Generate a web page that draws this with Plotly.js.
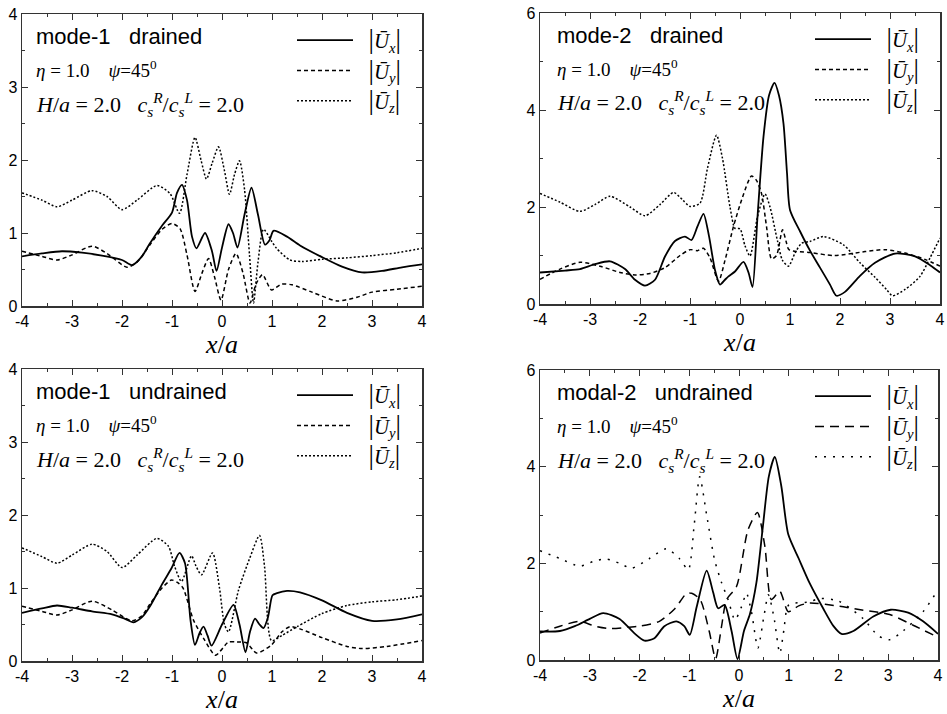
<!DOCTYPE html>
<html>
<head>
<meta charset="utf-8">
<script src="https://cdn.plot.ly/plotly-3.0.1.min.js"></script>
<style>html,body{margin:0;padding:0;background:#fff;}#chart{width:947px;height:714px;}</style>
</head>
<body>
<div id="chart"></div>
<script>
// ---------- Panel 1: mode-1 drained ----------
const p1_ux_x = [-4,-3.6,-3.2,-2.8,-2.4,-2.0,-1.8,-1.6,-1.44,-1.2,-1.0,-0.9,-0.8,-0.7,-0.6,-0.51,-0.34,-0.2,-0.11,0.0,0.13,0.22,0.31,0.45,0.59,0.72,0.86,0.95,1.03,1.3,1.56,2.0,2.4,2.8,3.2,3.6,4.0];
const p1_ux   = [0.68,0.72,0.75,0.73,0.69,0.63,0.56,0.68,0.86,1.1,1.28,1.55,1.66,1.45,0.95,0.79,1.0,0.75,0.48,0.8,1.12,1.0,0.8,1.25,1.62,1.25,0.84,0.9,1.03,0.95,0.83,0.67,0.54,0.46,0.48,0.53,0.57];
const p1_uy_x = [-4,-3.6,-3.3,-3.0,-2.6,-2.3,-1.9,-1.7,-1.44,-1.2,-1.0,-0.84,-0.7,-0.54,-0.4,-0.27,-0.15,-0.02,0.13,0.28,0.42,0.56,0.68,0.81,0.99,1.19,1.4,1.8,2.3,2.7,3.0,3.5,4.0];
const p1_uy   = [0.75,0.68,0.63,0.7,0.82,0.72,0.53,0.6,0.84,1.05,1.13,1.06,0.7,0.2,0.45,0.65,0.4,0.08,0.5,0.72,0.45,0.04,0.3,0.43,0.22,0.3,0.29,0.19,0.07,0.12,0.19,0.23,0.27];
const p1_uz_x = [-4,-3.6,-3.3,-3.0,-2.6,-2.3,-2.0,-1.7,-1.3,-1.04,-0.85,-0.7,-0.54,-0.42,-0.31,-0.2,-0.07,0.05,0.15,0.25,0.35,0.45,0.55,0.63,0.72,0.83,1.0,1.09,1.36,1.6,2.0,2.5,3.0,3.5,4.0];
const p1_uz   = [1.55,1.45,1.36,1.45,1.58,1.5,1.32,1.45,1.65,1.54,1.27,1.8,2.31,2.0,1.74,1.95,2.18,1.85,1.53,1.8,1.99,1.6,0.7,0.04,0.6,1.05,0.88,0.79,0.63,0.61,0.64,0.66,0.69,0.73,0.79];

// ---------- Panel 2: mode-2 drained ----------
const p2_ux_x = [-4,-3.5,-3.2,-2.9,-2.6,-2.3,-2.1,-1.9,-1.7,-1.5,-1.3,-1.1,-0.97,-0.85,-0.73,-0.62,-0.5,-0.4,-0.3,-0.23,-0.1,0.07,0.17,0.25,0.35,0.47,0.58,0.69,0.78,0.87,0.94,1.0,1.2,1.4,1.6,1.8,1.93,2.1,2.4,2.7,3.1,3.5,3.8,4.0];
const p2_ux   = [0.65,0.69,0.72,0.82,0.88,0.72,0.5,0.38,0.5,0.98,1.3,1.39,1.32,1.6,1.86,1.4,0.7,0.4,0.5,0.57,0.67,0.87,0.65,0.35,1.8,3.45,4.3,4.56,4.3,3.72,2.7,1.94,1.5,1.1,0.75,0.4,0.17,0.25,0.58,0.85,1.04,0.98,0.8,0.65];
const p2_uy_x = [-4,-3.6,-3.2,-2.8,-2.4,-2.1,-1.8,-1.5,-1.2,-1.0,-0.85,-0.73,-0.6,-0.43,-0.3,-0.13,0.05,0.23,0.33,0.43,0.53,0.63,0.73,0.85,0.92,0.98,1.4,1.9,2.5,2.9,3.3,3.7,4.0];
const p2_uy   = [0.51,0.72,0.86,0.78,0.65,0.6,0.63,0.75,1.0,1.12,1.1,1.15,0.95,0.47,0.9,1.6,2.2,2.64,2.55,2.28,1.6,0.93,1.0,1.53,1.3,1.12,1.06,1.0,1.08,1.12,1.05,0.92,0.78];
const p2_uz_x = [-4,-3.6,-3.2,-2.9,-2.6,-2.2,-1.9,-1.6,-1.33,-1.15,-1.0,-0.8,-0.65,-0.47,-0.35,-0.2,-0.1,0.0,0.1,0.2,0.35,0.5,0.6,0.75,0.85,0.97,1.1,1.23,1.4,1.67,2.07,2.4,2.7,2.93,3.05,3.3,3.6,3.8,4.0];
const p2_uz   = [2.28,2.1,1.91,2.05,2.22,2.0,1.82,2.05,2.3,2.15,2.01,2.08,2.8,3.48,3.0,2.0,1.56,1.55,1.2,0.99,1.8,2.27,2.0,1.3,0.9,0.78,1.05,1.25,1.29,1.39,1.22,0.85,0.55,0.3,0.17,0.3,0.57,0.95,1.36];

// ---------- Panel 3: mode-1 undrained ----------
const p3_ux_x = [-4,-3.6,-3.3,-3.0,-2.6,-2.2,-1.95,-1.77,-1.6,-1.44,-1.2,-1.01,-0.85,-0.74,-0.63,-0.54,-0.45,-0.37,-0.29,-0.21,0.0,0.23,0.35,0.47,0.56,0.66,0.75,0.83,0.92,1.01,1.1,1.3,1.56,2.0,2.5,3.0,3.5,4.0];
const p3_ux   = [0.66,0.72,0.76,0.73,0.68,0.64,0.58,0.53,0.6,0.75,1.05,1.27,1.48,1.34,0.56,0.22,0.38,0.47,0.35,0.21,0.5,0.77,0.5,0.12,0.4,0.58,0.5,0.45,0.6,0.9,0.93,0.96,0.94,0.83,0.66,0.55,0.57,0.64];
const p3_uy_x = [-4,-3.6,-3.3,-3.0,-2.6,-2.2,-1.8,-1.6,-1.44,-1.2,-1.01,-0.9,-0.78,-0.57,-0.35,-0.13,0.13,0.3,0.49,0.69,0.99,1.2,1.36,1.56,2.0,2.5,2.8,3.3,4.0];
const p3_uy   = [0.75,0.68,0.63,0.7,0.82,0.7,0.55,0.62,0.78,1.0,1.11,1.08,1.0,0.56,0.29,0.08,0.26,0.26,0.25,0.11,0.22,0.4,0.47,0.44,0.32,0.2,0.17,0.2,0.28];
const p3_uz_x = [-4,-3.6,-3.3,-3.0,-2.6,-2.3,-2.0,-1.7,-1.3,-1.07,-0.95,-0.81,-0.61,-0.52,-0.41,-0.19,-0.05,0.05,0.13,0.33,0.55,0.75,0.85,0.99,1.2,1.5,2.0,2.5,3.0,3.5,4.0];
const p3_uz   = [1.55,1.43,1.34,1.45,1.6,1.5,1.28,1.45,1.68,1.57,1.3,1.09,1.44,1.3,1.18,1.48,1.0,0.5,0.4,0.97,1.4,1.72,1.3,0.28,0.35,0.47,0.65,0.76,0.81,0.84,0.89];

// ---------- Panel 4: modal-2 undrained ----------
const p4_ux_x = [-4,-3.6,-3.3,-3.0,-2.73,-2.4,-2.1,-1.9,-1.7,-1.5,-1.26,-1.1,-0.99,-0.85,-0.65,-0.52,-0.42,-0.29,-0.15,-0.03,0.1,0.22,0.35,0.48,0.6,0.72,0.85,0.99,1.2,1.42,1.69,1.9,2.06,2.3,2.7,3.05,3.4,3.7,4.0];
const p4_ux   = [0.59,0.6,0.7,0.85,0.97,0.85,0.55,0.4,0.45,0.7,0.8,0.7,0.52,1.1,1.85,1.4,1.07,1.14,0.6,0.02,0.6,0.95,1.6,2.76,3.8,4.2,3.6,2.6,2.1,1.59,1.07,0.7,0.54,0.6,0.9,1.04,0.98,0.8,0.54];
const p4_uy_x = [-4,-3.6,-3.2,-2.9,-2.6,-2.2,-2.0,-1.6,-1.3,-1.05,-0.95,-0.78,-0.6,-0.47,-0.35,-0.25,-0.05,0.18,0.37,0.52,0.65,0.82,0.99,1.2,1.42,2.02,2.5,3.03,3.5,4.0];
const p4_uy   = [0.56,0.7,0.8,0.7,0.65,0.68,0.7,0.8,1.05,1.38,1.38,1.25,0.6,0.03,0.7,1.25,1.52,2.69,3.05,2.35,1.25,1.42,1.0,1.12,1.18,1.11,1.03,0.94,0.72,0.47];
const p4_uz_x = [-4,-3.6,-3.2,-2.9,-2.66,-2.4,-2.16,-1.8,-1.46,-1.2,-1.02,-0.9,-0.79,-0.65,-0.49,-0.35,-0.22,-0.08,0.05,0.15,0.25,0.38,0.5,0.59,0.7,0.82,0.9,1.0,1.42,1.6,2.0,2.5,2.8,3.03,3.3,3.7,4.0];
const p4_uz   = [2.26,2.1,1.94,2.05,2.09,2.0,1.9,2.1,2.3,2.1,1.87,2.8,3.79,3.0,2.07,1.6,1.25,0.83,1.1,1.38,1.0,0.25,0.9,1.35,0.9,0.14,0.6,1.14,1.2,1.27,1.22,0.85,0.5,0.42,0.6,1.0,1.45];

// ---------- Text ----------
const panelTitles = ['mode-1   drained','mode-2   drained','mode-1   undrained','modal-2   undrained'];
const paramLine1 = '<i>η</i> = 1.0    <i>ψ</i>=45<sup>0</sup>';
const paramLine2 = '<i>H</i>/<i>a</i> = 2.0   <i>c<sub>s</sub><sup>R</sup></i>/<i>c<sub>s</sub><sup>L</sup></i> = 2.0';
const subs = ['x','y','z'];
const seriesNames = subs.map(s => '\u00A0\u00A0<span style="font-size:27px">|</span><i>Ū<sub>' + s + '</sub></i><span style="font-size:27px">|</span>');
const xTicks = [-4,-3,-2,-1,0,1,2,3,4];
const xTitle = '<i>x</i>/<i>a</i>';

const W = 947, H = 714;
const px = v => v / W;
const py = v => 1 - v / H;

// panel frames in pixels: [left, right, top, bottom]
const frames = [
  [22, 422, 14, 306],
  [540, 940, 13, 304],
  [22, 422, 369, 661],
  [540, 938, 370, 660]
];
const yMax = [4, 6, 4, 6];
const yTickStep = [1, 2, 1, 2];

const data = [];
const panels = [
  [[p1_ux_x,p1_ux],[p1_uy_x,p1_uy],[p1_uz_x,p1_uz]],
  [[p2_ux_x,p2_ux],[p2_uy_x,p2_uy],[p2_uz_x,p2_uz]],
  [[p3_ux_x,p3_ux],[p3_uy_x,p3_uy],[p3_uz_x,p3_uz]],
  [[p4_ux_x,p4_ux],[p4_uy_x,p4_uy],[p4_uz_x,p4_uz]]
];
const dashStyles = [
  ['solid','4px,3px','2px,2px'],
  ['solid','4px,3px','2px,2px'],
  ['solid','4px,3px','2px,2px'],
  ['solid','9px,6px','2px,7px']
];
const widths = [1.8, 1.5, 1.5];

panels.forEach((series, p) => {
  const sfx = p === 0 ? '' : String(p + 1);
  series.forEach((s, k) => {
    data.push({
      type: 'scatter', mode: 'lines',
      x: s[0], y: s[1],
      xaxis: 'x' + sfx, yaxis: 'y' + sfx,
      name: seriesNames[k],
      legend: 'legend' + sfx,
      line: {color: '#000', width: widths[k], dash: dashStyles[p][k], shape: 'spline', smoothing: 0.7},
      hoverinfo: 'skip'
    });
  });
});

const layout = {
  width: W, height: H,
  margin: {l: 0, r: 0, t: 0, b: 0},
  paper_bgcolor: '#fff', plot_bgcolor: '#fff',
  font: {family: 'Liberation Sans, Arial, sans-serif', color: '#000', size: 16},
  showlegend: true,
  annotations: []
};

frames.forEach((f, p) => {
  const sfx = p === 0 ? '' : String(p + 1);
  const [l, r, t, b] = f;
  layout['xaxis' + sfx] = {
    domain: [px(l), px(r)], anchor: 'y' + sfx,
    range: [-4, 4], tickvals: xTicks, ticktext: xTicks.map(String),
    ticks: 'inside', ticklen: 6, tickwidth: 1, tickcolor: '#333',
    minor: {dtick: 0.5, tick0: 0, ticks: 'inside', ticklen: 3, tickcolor: '#333', showgrid: false},
    showline: true, linecolor: '#333', linewidth: 1.5, mirror: 'ticks',
    showgrid: false, zeroline: false,
    tickfont: {family: 'Liberation Sans, Arial, sans-serif', size: 16, color: '#000'},
    title: {text: xTitle, font: {family: 'Liberation Serif, Times New Roman, serif', size: 26, color: '#000'}, standoff: 4}
  };
  layout['yaxis' + sfx] = {
    domain: [py(b), py(t)], anchor: 'x' + sfx,
    range: [0, yMax[p]], dtick: yTickStep[p], tick0: 0,
    ticks: 'inside', ticklen: 6, tickwidth: 1, tickcolor: '#333',
    minor: {dtick: yTickStep[p] / 2, tick0: 0, ticks: 'inside', ticklen: 3, tickcolor: '#333', showgrid: false},
    showline: true, linecolor: '#333', linewidth: 1.5, mirror: 'ticks',
    showgrid: false, zeroline: false,
    tickfont: {family: 'Liberation Sans, Arial, sans-serif', size: 16, color: '#000'}
  };
  // legends
  const legX = p % 2 === 0 ? 292 : 810;
  layout['legend' + sfx] = {
    x: px(legX), y: py(t + 6), xanchor: 'left', yanchor: 'top',
    bgcolor: 'rgba(0,0,0,0)', borderwidth: 0,
    itemwidth: 56, tracegroupgap: 0,
    font: {family: 'Liberation Serif, Times New Roman, serif', size: 21, color: '#000'},
    itemclick: false, itemdoubleclick: false
  };
  // texts
  const txX = p % 2 === 0 ? 34 : 555;
  layout.annotations.push(
    {xref: 'paper', yref: 'paper', x: px(txX), y: py(t + 22), xanchor: 'left', yanchor: 'middle', showarrow: false,
     text: panelTitles[p], font: {family: 'Liberation Sans, Arial, sans-serif', size: 22, color: '#000'}},
    {xref: 'paper', yref: 'paper', x: px(txX), y: py(t + 55), xanchor: 'left', yanchor: 'middle', showarrow: false,
     text: paramLine1, font: {family: 'Liberation Serif, Times New Roman, serif', size: 19, color: '#000'}},
    {xref: 'paper', yref: 'paper', x: px(txX), y: py(t + 90), xanchor: 'left', yanchor: 'middle', showarrow: false,
     text: paramLine2, font: {family: 'Liberation Serif, Times New Roman, serif', size: 22, color: '#000'}}
  );
});

Plotly.newPlot('chart', data, layout, {staticPlot: true, displayModeBar: false});
</script>
</body>
</html>
